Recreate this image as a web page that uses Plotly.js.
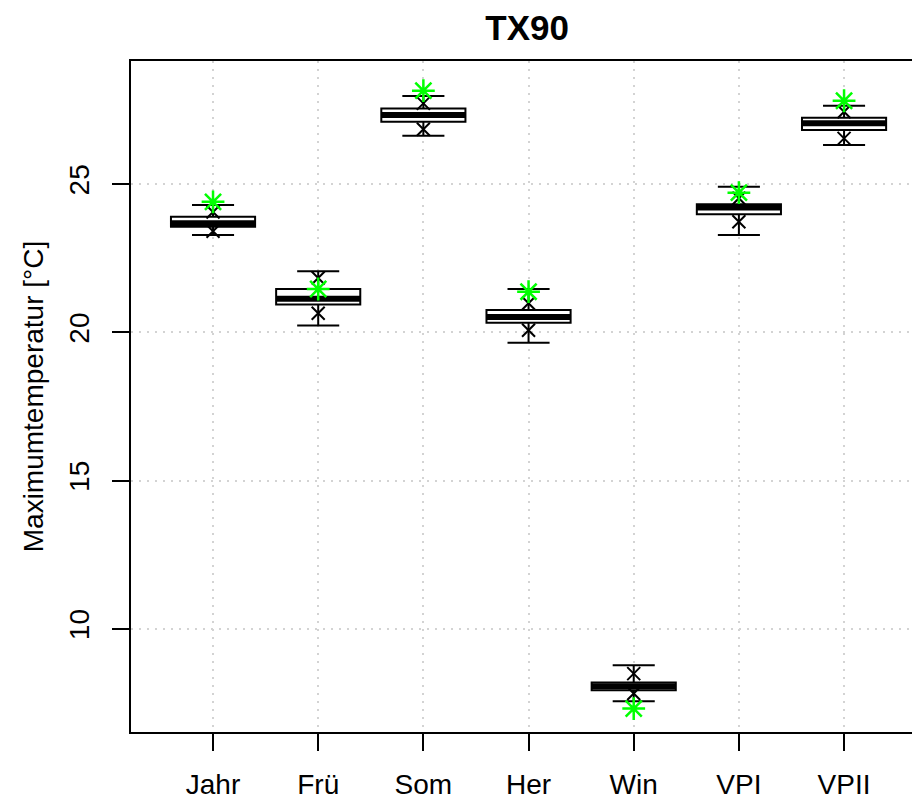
<!DOCTYPE html>
<html>
<head>
<meta charset="utf-8">
<script src="https://cdn.plot.ly/plotly-3.0.1.min.js"></script>
<style>html,body{margin:0;padding:0;background:#fff;}#chart{width:912px;height:801px;}</style>
</head>
<body>
<div id="chart"></div>
<script>
const categories = ["Jahr", "Frü", "Som", "Her", "Win", "VPI", "VPII"];
const lowerWhisker = [23.28, 20.23, 26.63, 19.65, 7.56, 23.28, 26.32];
const q1 = [23.56, 20.94, 27.10, 20.32, 7.93, 23.98, 26.82];
const median = [23.68, 21.13, 27.33, 20.52, 8.06, 24.21, 27.05];
const q3 = [23.90, 21.46, 27.55, 20.75, 8.19, 24.32, 27.24];
const upperWhisker = [24.29, 22.06, 27.97, 21.46, 8.77, 24.91, 27.64];
const crossHigh = [24.06, 21.83, 27.72, 20.98, 8.49, 24.52, 27.44];
const crossLow = [23.41, 20.64, 26.85, 20.07, 7.82, 23.73, 26.54];
const greenPoint = [24.40, 21.46, 28.15, 21.37, 7.31, 24.71, 27.81];

const pos = categories.map((c, i) => i + 1);
const boxWidth = 0.8;

const medX = [], medY = [];
pos.forEach((p, i) => {
  medX.push(p - boxWidth / 2, p + boxWidth / 2, null);
  medY.push(median[i], median[i], null);
});

const traces = [
  {
    type: "box",
    x: pos,
    q1: q1,
    median: median,
    q3: q3,
    lowerfence: lowerWhisker,
    upperfence: upperWhisker,
    width: boxWidth,
    whiskerwidth: 0.5,
    fillcolor: "#ffffff",
    line: { color: "#000000", width: 2 },
    hoverinfo: "skip",
    showlegend: false
  },
  {
    type: "scatter",
    mode: "lines",
    x: medX,
    y: medY,
    line: { color: "#000000", width: 6 },
    hoverinfo: "skip",
    showlegend: false
  },
  {
    type: "scatter",
    mode: "markers",
    x: pos.concat(pos),
    y: crossHigh.concat(crossLow),
    marker: { symbol: "x-thin-open", size: 13, color: "#000000", line: { color: "#000000", width: 2 } },
    hoverinfo: "skip",
    showlegend: false
  },
  {
    type: "scatter",
    mode: "markers",
    x: pos,
    y: greenPoint,
    marker: { symbol: "asterisk-open", size: 19, color: "#00ff00", line: { color: "#00ff00", width: 2.5 } },
    hoverinfo: "skip",
    showlegend: false
  }
];

const layout = {
  width: 912,
  height: 801,
  margin: { l: 131, r: 0, t: 61, b: 69 },
  paper_bgcolor: "#ffffff",
  plot_bgcolor: "#ffffff",
  font: { family: "Liberation Sans, Arial, sans-serif", color: "#000000", size: 28 },
  title: {
    text: "<b>TX90</b>",
    font: { size: 35, family: "Liberation Sans, Arial, sans-serif", color: "#000000" },
    x: 0.578, xref: "container", xanchor: "center",
    y: 0.965, yref: "container", yanchor: "middle"
  },
  xaxis: {
    range: [0.22, 7.646],
    tickmode: "array",
    tickvals: pos,
    ticktext: categories,
    ticks: "outside",
    ticklen: 17,
    tickwidth: 2,
    tickcolor: "#000000",
    showline: true,
    mirror: true,
    linecolor: "#000000",
    linewidth: 2,
    showgrid: true,
    gridcolor: "#d3d3d3",
    griddash: "2px,6px",
    gridwidth: 2,
    zeroline: false,
    tickfont: { size: 28 },
    ticklabelstandoff: 9
  },
  yaxis: {
    range: [6.52, 29.15],
    tickmode: "array",
    tickvals: [10, 15, 20, 25],
    ticktext: ["10", "15", "20", "25"],
    ticks: "outside",
    ticklen: 17,
    tickwidth: 2,
    tickcolor: "#000000",
    tickangle: -90,
    showline: true,
    mirror: false,
    linecolor: "#000000",
    linewidth: 2,
    showgrid: true,
    gridcolor: "#d3d3d3",
    griddash: "2px,6px",
    gridwidth: 2,
    zeroline: false,
    tickfont: { size: 28 },
    ticklabelstandoff: 12,
    title: { text: "Maximumtemperatur [°C]", font: { size: 28 }, standoff: 12 }
  }
};

Plotly.newPlot("chart", traces, layout, { staticPlot: true, displayModeBar: false });
</script>
</body>
</html>
